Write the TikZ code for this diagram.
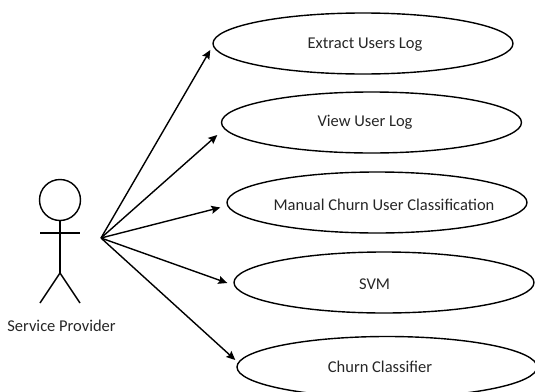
\documentclass[tikz,border=0pt]{standalone}
\usepackage{fontspec}
\setmainfont{Carlito}
\usetikzlibrary{arrows.meta}
\usetikzlibrary{shapes.geometric}

\begin{document}
\begin{tikzpicture}[x=1pt, y=-1pt, line width=1.4pt,
				   every node/.style={font=\fontsize{16.5}{19}\selectfont, text=black!85},
				   usecase/.style={ellipse, draw=black, minimum width=300pt, minimum height=61pt, inner sep=0pt},
				   limb/.style={line cap=butt},
				   link/.style={-{Stealth[length=9pt, width=8pt, inset=1.5pt]}}]
\clip[use as bounding box] (0,0) rectangle (535,391);
% use cases
\node[usecase, label={[xshift=2pt, yshift=-1.5pt]center:Extract Users Log}] (extract) at (363,43.5) {};
\node[usecase, label={[xshift=-6.5pt, yshift=0.5pt]center:View User Log}] (view) at (371.5,122.5) {};
\node[usecase, label={[xshift=7pt, yshift=-2.5pt]center:Manual Churn User Classification}] (manual) at (377,202.5) {};
\node[usecase, label={[xshift=-9.5pt, yshift=-2pt]center:SVM}] (svm) at (384,282.5) {};
\node[usecase, label={[xshift=-7pt, yshift=0.5pt]center:Churn Classifier}] (churn) at (387,367) {};
% actor
\node[circle, draw=black, minimum size=41pt, inner sep=0pt] (head) at (60,200) {};
\coordinate (hip) at (60,273);
\coordinate (handl) at (40,233);
\coordinate (handr) at (80,233);
\coordinate (footl) at (40,303);
\coordinate (footr) at (80,303);
\coordinate (actor) at (101,238);
\node (provider) at (61.5,326) {Service Provider};
\draw[limb] (head.south) -- (hip);
\draw[limb] (handl) -- (handr);
\draw[limb] (footl) -- (hip) -- (footr);
% links
\draw[link] (actor) -- ([shift={(-2,6.5)}]extract.west);
\draw[link] (actor) -- ([shift={(-3.5,12.5)}]view.west);
\draw[link] (actor) -- ([shift={(-6,5)}]manual.west);
\draw[link] (actor) -- ([shift={(-6,0.5)}]svm.west);
\draw[link] (actor) -- ([shift={(-1,-7)}]churn.west);
\end{tikzpicture}
\end{document}
